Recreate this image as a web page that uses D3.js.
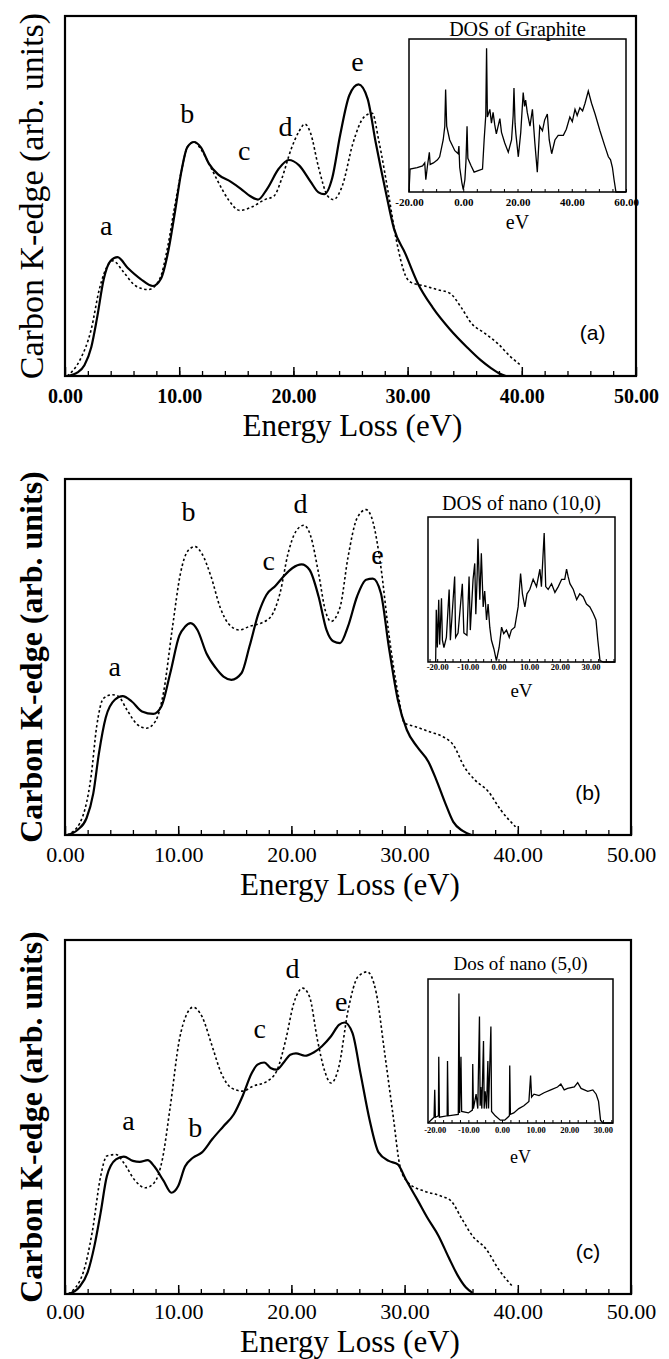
<!DOCTYPE html>
<html>
<head>
<meta charset="utf-8">
<script src="https://cdn.jsdelivr.net/npm/d3@7"></script>
<style>
body { margin: 0; background: #fff; }
text { font-family: "Liberation Serif", "Times New Roman", serif; fill: #000; }
</style>
</head>
<body>
<div id="chart"></div>
<script>
const Width = 669
const Height = 1359

// energy loss spectra, [eV, intensity (arb.)]
const solidA = [[0.2,0],[1.1,0.01],[1.7,0.03],[2.3,0.08],[2.8,0.16],[3.4,0.27],[4.0,0.32],[4.6,0.33],[5.5,0.30],[6.6,0.27],[7.7,0.25],[8.4,0.27],[9.0,0.34],[9.6,0.45],[10.2,0.57],[10.7,0.635],[11.3,0.65],[11.9,0.635],[12.6,0.59],[13.4,0.56],[14.5,0.54],[15.4,0.52],[16.2,0.50],[16.9,0.49],[17.7,0.52],[18.7,0.575],[19.6,0.60],[20.5,0.585],[21.5,0.54],[22.2,0.51],[22.7,0.505],[23.4,0.55],[24.1,0.67],[24.9,0.78],[25.7,0.81],[26.5,0.77],[27.2,0.65],[28.1,0.51],[28.8,0.41],[29.8,0.34],[30.9,0.257],[32.2,0.19],[33.7,0.13],[35.2,0.08],[36.4,0.044],[37.3,0.022],[38.1,0.006],[38.6,0]]
const dottedA = [[0.2,0],[1.3,0.044],[2.3,0.13],[3.0,0.24],[3.8,0.31],[4.2,0.32],[5.1,0.29],[6.2,0.25],[7.3,0.24],[8.3,0.27],[9.0,0.36],[9.6,0.47],[10.2,0.57],[10.7,0.635],[11.3,0.65],[11.9,0.63],[12.6,0.59],[13.4,0.54],[14.3,0.49],[15.3,0.46],[16.4,0.47],[17.5,0.49],[18.3,0.50],[19.0,0.55],[19.8,0.63],[20.5,0.68],[21.0,0.70],[21.5,0.675],[22.2,0.58],[23.0,0.50],[23.5,0.49],[24.3,0.53],[25.2,0.645],[26.2,0.72],[26.9,0.73],[27.5,0.65],[28.3,0.51],[29.0,0.38],[29.8,0.28],[30.3,0.26],[31.5,0.25],[32.6,0.24],[33.7,0.23],[34.7,0.19],[35.6,0.146],[36.7,0.12],[37.9,0.09],[39.0,0.054],[39.9,0.03]]

const solidB = [[0.2,0],[1.1,0.014],[1.9,0.047],[2.5,0.117],[3.0,0.23],[3.6,0.33],[4.4,0.38],[5.1,0.39],[5.9,0.375],[6.8,0.347],[7.8,0.34],[8.5,0.36],[9.3,0.455],[10.1,0.56],[10.6,0.585],[11.1,0.595],[11.7,0.576],[12.5,0.51],[13.3,0.47],[14.0,0.445],[14.7,0.436],[15.6,0.455],[16.3,0.53],[17.1,0.623],[17.8,0.675],[18.6,0.70],[19.3,0.726],[20.1,0.75],[20.9,0.76],[21.6,0.745],[22.4,0.67],[23.1,0.576],[23.7,0.544],[24.3,0.539],[25.0,0.586],[25.8,0.67],[26.6,0.717],[27.2,0.72],[27.9,0.68],[28.6,0.53],[29.4,0.38],[30.2,0.295],[31.1,0.248],[32.1,0.206],[32.8,0.155],[33.6,0.089],[34.3,0.037],[35.1,0.012],[35.9,0]]
const dottedB = [[0.2,0],[1.3,0.033],[2.3,0.164],[2.8,0.305],[3.4,0.384],[4.2,0.394],[4.7,0.39],[5.5,0.35],[6.4,0.31],[7.2,0.30],[8.0,0.32],[8.7,0.40],[9.5,0.585],[10.2,0.735],[10.9,0.80],[11.5,0.81],[12.1,0.79],[12.9,0.726],[13.7,0.64],[14.4,0.595],[15.4,0.576],[16.3,0.586],[17.3,0.595],[18.2,0.614],[19.0,0.68],[19.7,0.79],[20.4,0.853],[21.1,0.87],[21.7,0.84],[22.4,0.735],[23.0,0.63],[23.5,0.60],[24.3,0.64],[25.0,0.78],[25.8,0.89],[26.6,0.914],[27.2,0.88],[27.9,0.754],[28.6,0.567],[29.4,0.40],[30.0,0.314],[30.9,0.305],[32.2,0.29],[33.4,0.276],[34.3,0.253],[35.3,0.19],[36.2,0.155],[37.4,0.122],[38.5,0.07],[39.8,0.023]]

const solidC = [[0.3,0],[1.25,0.019],[2.0,0.061],[2.6,0.136],[3.15,0.23],[3.7,0.333],[4.5,0.38],[5.2,0.388],[6.0,0.376],[6.6,0.373],[7.3,0.378],[7.9,0.36],[8.7,0.32],[9.4,0.286],[10.0,0.305],[10.6,0.36],[11.3,0.385],[12.1,0.40],[13.0,0.437],[14.0,0.474],[14.9,0.507],[15.7,0.56],[16.5,0.624],[17.0,0.648],[17.6,0.654],[18.2,0.638],[18.7,0.634],[19.3,0.653],[19.9,0.676],[20.4,0.68],[21.2,0.673],[22.0,0.683],[22.7,0.70],[23.5,0.728],[24.2,0.76],[24.7,0.767],[25.4,0.737],[26.1,0.624],[26.9,0.493],[27.7,0.40],[28.6,0.376],[29.4,0.366],[30.1,0.324],[31.1,0.268],[32.0,0.216],[33.0,0.164],[33.9,0.103],[34.7,0.052],[35.4,0.019],[36.0,0.003]]
const dottedC = [[0.3,0],[1.6,0.06],[2.4,0.174],[3.15,0.333],[3.7,0.39],[4.5,0.394],[5.2,0.37],[6.2,0.32],[7.1,0.30],[7.9,0.315],[8.6,0.38],[9.3,0.53],[10.1,0.718],[10.75,0.79],[11.3,0.81],[12.1,0.784],[13.0,0.70],[13.8,0.624],[14.7,0.582],[15.7,0.573],[16.6,0.587],[17.8,0.60],[18.7,0.63],[19.5,0.718],[20.2,0.82],[21.0,0.864],[21.6,0.84],[22.3,0.718],[22.9,0.634],[23.5,0.596],[24.2,0.643],[25.0,0.80],[25.9,0.897],[26.7,0.91],[27.5,0.85],[28.2,0.69],[29.0,0.50],[29.6,0.36],[30.3,0.315],[31.8,0.29],[33.2,0.277],[34.1,0.263],[35.1,0.21],[36.0,0.164],[37.2,0.127],[38.3,0.07],[39.6,0.019]]

// densities of states for the insets, [eV, DOS (arb.)]
const dosA = [[-20,0],[-19.6,0.15],[-17,0.16],[-15,0.17],[-14.2,0.19],[-13.8,0.08],[-13.2,0.17],[-12.5,0.26],[-12.2,0.18],[-11,0.19],[-9.5,0.21],[-8.7,0.23],[-7.4,0.34],[-6.8,0.43],[-6.5,0.67],[-6.1,0.43],[-5,0.34],[-3.1,0.27],[-1.9,0.25],[-1.6,0.30],[-1.3,0.16],[-0.5,0.06],[0,0.015],[0.6,0.08],[1.0,0.2],[1.4,0.43],[1.7,0.22],[2.8,0.175],[4,0.13],[5.5,0.14],[7.1,0.15],[7.7,0.34],[8.3,0.5],[8.6,0.94],[8.9,0.49],[9.8,0.54],[10.4,0.45],[11,0.52],[11.6,0.44],[12.2,0.38],[13.5,0.48],[14.1,0.39],[15.3,0.32],[16.6,0.26],[17.8,0.34],[18.4,0.5],[18.7,0.68],[19.1,0.45],[19.4,0.38],[20.3,0.23],[21.2,0.39],[22.1,0.65],[22.6,0.56],[23,0.6],[23.6,0.52],[24.6,0.43],[25.5,0.54],[26.4,0.32],[27.3,0.13],[28.2,0.43],[29.2,0.40],[30,0.47],[31,0.51],[31.7,0.34],[32.6,0.25],[33.8,0.34],[35,0.37],[36.9,0.37],[38,0.41],[39.3,0.49],[40.2,0.46],[41.2,0.54],[42,0.5],[43,0.55],[44,0.53],[44.9,0.58],[46.1,0.66],[47.3,0.58],[48.6,0.51],[50.4,0.40],[52.2,0.30],[53.5,0.23],[54.3,0.21],[55,0.16],[55.6,0.08],[56.3,0],[60,0]]
const dosB = [[-20.5,0],[-20.3,0.36],[-19.95,0.10],[-19.5,0.43],[-19.2,0.12],[-18.6,0.44],[-18.3,0.15],[-17.8,0.10],[-17.0,0.17],[-16.1,0.50],[-15.7,0.15],[-14.3,0.59],[-14.0,0.17],[-13.2,0.20],[-11.8,0.54],[-11.3,0.2],[-10.3,0.185],[-9.6,0.59],[-9.2,0.22],[-8.3,0.57],[-7.75,0.68],[-7.4,0.33],[-7.0,0.57],[-6.7,0.85],[-6.1,0.43],[-5.6,0.75],[-5.0,0.38],[-4.5,0.49],[-3.9,0.29],[-3.4,0.40],[-2.85,0.24],[-2.3,0.15],[-1.5,0.09],[-0.7,0.01],[0.2,0.10],[1.0,0.24],[1.7,0.195],[2.6,0.22],[3.5,0.17],[4.2,0.22],[5.3,0.24],[6.4,0.38],[7.2,0.61],[7.8,0.47],[8.6,0.38],[9.3,0.47],[10.2,0.50],[11.3,0.57],[12.4,0.52],[13.5,0.64],[14.0,0.52],[14.9,0.89],[15.4,0.52],[16.2,0.50],[17.3,0.54],[18.4,0.48],[19.5,0.52],[20.6,0.57],[21.6,0.57],[22.2,0.64],[22.7,0.59],[23.3,0.54],[24.4,0.50],[25.5,0.43],[26.5,0.47],[27.6,0.45],[28.7,0.40],[29.8,0.38],[30.9,0.335],[31.8,0.29],[32.4,0.15],[33.1,0.01],[34.2,0],[38,0]]
const dosC = [[-22,0],[-20.2,0.04],[-20,0.23],[-19.8,0.04],[-18.9,0.05],[-18.8,0.46],[-18.6,0.04],[-16.3,0.05],[-16.2,0.43],[-16.0,0.05],[-13.0,0.06],[-12.8,0.90],[-12.6,0.07],[-12.2,0.46],[-12.0,0.08],[-10,0.07],[-8.8,0.09],[-8.7,0.41],[-8.5,0.1],[-7.7,0.2],[-7.2,0.1],[-6.7,0.74],[-6.5,0.12],[-6.3,0.25],[-6.0,0.1],[-5.5,0.57],[-5.3,0.1],[-5,0.22],[-4.6,0.1],[-4.2,0.43],[-4.0,0.1],[-3.3,0.67],[-3.1,0.08],[-2,0.05],[-0.5,0.02],[0.8,0.02],[2.2,0.05],[2.3,0.40],[2.5,0.06],[3.5,0.07],[5,0.1],[6.5,0.12],[8,0.15],[8.5,0.33],[8.8,0.18],[9.5,0.2],[11,0.19],[12.5,0.21],[14.5,0.23],[16.5,0.25],[17.5,0.27],[18.5,0.23],[19.5,0.24],[21.5,0.25],[22.5,0.28],[23.5,0.24],[25.5,0.22],[27,0.23],[28,0.2],[28.7,0.15],[29.3,0.02],[30,0],[33,0]]

const energyTicks = [0, 10, 20, 30, 40, 50]
const dosTicksA = [-20, 0, 20, 40, 60]
const dosTicksBC = [-20, -10, 0, 10, 20, 30]

const peakNames = ['a', 'b', 'c', 'd', 'e']
const peaksA = [[3.6, 0.42], [10.7, 0.73], [15.7, 0.626], [19.3, 0.695], [25.6, 0.875]]
const peaksB = [[4.4, 0.473], [10.9, 0.91], [18.0, 0.773], [20.8, 0.933], [27.6, 0.79]]
const peaksC = [[5.6, 0.49], [11.5, 0.47], [17.2, 0.75], [20.1, 0.92], [24.4, 0.826]]

const panels = [
    { solid: solidA, dotted: dottedA, peaks: peaksA, tag: '(a)',
      dos: dosA, dosDomain: [-20, 60], dosTicks: dosTicksA, dosMinor: 5, dosTitle: 'DOS of Graphite',
      frame: { l: 65, r: 636, t: 16, b: 376 }, inset: { l: 409, r: 626, t: 39, b: 192 },
      tickFont: 20, tickWeight: 'bold', tickPad: 13, titleOff: 49, ylabWeight: 'normal', ylabSize: 34,
      insetFont: 11, insetPad: 6, titleY: 29, titleSize: 20, evSize: 20, evY: 222 },
    { solid: solidB, dotted: dottedB, peaks: peaksB, tag: '(b)',
      dos: dosB, dosDomain: [-23, 38], dosTicks: dosTicksBC, dosMinor: 2.5, dosTitle: 'DOS of nano (10,0)',
      frame: { l: 65, r: 631, t: 479, b: 835 }, inset: { l: 428, r: 615, t: 517, b: 662 },
      tickFont: 22, tickWeight: 'normal', tickPad: 11, titleOff: 49, ylabWeight: 'bold', ylabSize: 32,
      insetFont: 8.5, insetPad: 2, titleY: 503, titleSize: 20, evSize: 19, evY: 690 },
    { solid: solidC, dotted: dottedC, peaks: peaksC, tag: '(c)',
      dos: dosC, dosDomain: [-22, 33], dosTicks: dosTicksBC, dosMinor: 2.5, dosTitle: 'Dos of nano (5,0)',
      frame: { l: 65, r: 631, t: 940, b: 1294 }, inset: { l: 428, r: 613, t: 979, b: 1123 },
      tickFont: 22, tickWeight: 'normal', tickPad: 9.5, titleOff: 47, ylabWeight: 'bold', ylabSize: 32,
      insetFont: 8.5, insetPad: 4, titleY: 963, titleSize: 19, evSize: 18, evY: 1157 }
]

const svg = d3.select('#chart')
    .append('svg')
    .attr('width', Width)
    .attr('height', Height)

panels.forEach(p => {
    const f = p.frame
    const x = d3.scaleLinear().domain([0, 50]).range([f.l, f.r])
    const y = d3.scaleLinear().domain([0, 1]).range([f.b, f.t])

    const g = svg.append('g')

    // minor ticks every 2 eV, pointing inward
    g.append('g')
        .attr('transform', `translate(0,${f.b})`)
        .call(d3.axisBottom(x).tickValues(d3.range(2, 50, 2)).tickSize(-5).tickFormat(''))
        .call(a => a.select('.domain').remove())
        .call(a => a.selectAll('line').attr('stroke-width', 1.3))

    g.append('g')
        .attr('transform', `translate(0,${f.b})`)
        .call(d3.axisBottom(x).tickValues(energyTicks).tickSize(-9).tickPadding(p.tickPad).tickFormat(d => d.toFixed(2)))
        .call(a => a.select('.domain').remove())
        .call(a => a.selectAll('line').attr('stroke-width', 1.5))
        .call(a => a.selectAll('text')
            .attr('fill', '#000')
            .style('font-family', '"Liberation Serif", serif')
            .style('font-size', p.tickFont + 'px')
            .style('font-weight', p.tickWeight))

    g.append('rect')
        .attr('x', f.l).attr('y', f.t)
        .attr('width', f.r - f.l).attr('height', f.b - f.t)
        .attr('fill', 'none').attr('stroke', '#000').attr('stroke-width', 2.2)

    const line = d3.line()
        .x(d => x(d[0]))
        .y(d => y(d[1]))
        .curve(d3.curveMonotoneX)

    g.append('path')
        .datum(p.dotted)
        .attr('d', line)
        .attr('fill', 'none')
        .attr('stroke', '#000')
        .attr('stroke-width', 1.6)
        .attr('stroke-dasharray', '2.5,2.5')

    g.append('path')
        .datum(p.solid)
        .attr('d', line)
        .attr('fill', 'none')
        .attr('stroke', '#000')
        .attr('stroke-width', 2.2)

    g.selectAll('.peak')
        .data(p.peaks)
        .enter().append('text')
        .attr('x', d => x(d[0]))
        .attr('y', d => y(d[1]))
        .attr('text-anchor', 'middle')
        .attr('dy', '0.35em')
        .style('font-size', '28px')
        .text((d, i) => peakNames[i])

    g.append('text')
        .attr('x', x(46.2))
        .attr('y', y(0.12))
        .attr('text-anchor', 'middle')
        .attr('dy', '0.35em')
        .style('font-family', '"Liberation Sans", Arial, sans-serif')
        .style('font-size', '21px')
        .text(p.tag)

    g.append('text')
        .attr('x', (f.l + f.r) / 2 + 2)
        .attr('y', f.b + p.titleOff)
        .attr('text-anchor', 'middle')
        .attr('dy', '0.35em')
        .style('font-size', '31px')
        .text('Energy Loss (eV)')

    g.append('text')
        .attr('transform', `translate(31,${(f.t + f.b) / 2}) rotate(-90)`)
        .attr('text-anchor', 'middle')
        .attr('dy', '0.35em')
        .style('font-size', p.ylabSize + 'px')
        .style('font-weight', p.ylabWeight)
        .text('Carbon K-edge (arb. units)')

    // inset: density of states
    const ins = p.inset
    const xi = d3.scaleLinear().domain(p.dosDomain).range([ins.l, ins.r])
    const yi = d3.scaleLinear().domain([0, 1]).range([ins.b, ins.t])

    g.append('g')
        .attr('transform', `translate(0,${ins.b})`)
        .call(d3.axisBottom(xi)
            .tickValues(d3.range(Math.ceil(p.dosDomain[0] / p.dosMinor) * p.dosMinor, p.dosDomain[1] + 0.01, p.dosMinor))
            .tickSize(-3).tickFormat(''))
        .call(a => a.select('.domain').remove())

    g.append('g')
        .attr('transform', `translate(0,${ins.b})`)
        .call(d3.axisBottom(xi).tickValues(p.dosTicks).tickSize(0).tickPadding(p.insetPad).tickFormat(d => d.toFixed(2)))
        .call(a => a.select('.domain').remove())
        .call(a => a.selectAll('text')
            .attr('fill', '#000')
            .style('font-family', '"Liberation Serif", serif')
            .style('font-size', p.insetFont + 'px')
            .style('font-weight', 'bold'))

    g.append('path')
        .datum(p.dos)
        .attr('d', d3.line().x(d => xi(d[0])).y(d => yi(d[1])))
        .attr('fill', 'none')
        .attr('stroke', '#000')
        .attr('stroke-width', 1.3)

    g.append('rect')
        .attr('x', ins.l).attr('y', ins.t)
        .attr('width', ins.r - ins.l).attr('height', ins.b - ins.t)
        .attr('fill', 'none').attr('stroke', '#000').attr('stroke-width', 1.5)

    g.append('text')
        .attr('x', (ins.l + ins.r) / 2)
        .attr('y', p.titleY)
        .attr('text-anchor', 'middle')
        .attr('dy', '0.35em')
        .style('font-size', p.titleSize + 'px')
        .text(p.dosTitle)

    g.append('text')
        .attr('x', (ins.l + ins.r) / 2)
        .attr('y', p.evY)
        .attr('text-anchor', 'middle')
        .attr('dy', '0.35em')
        .style('font-size', p.evSize + 'px')
        .text('eV')
})
</script>
</body>
</html>
